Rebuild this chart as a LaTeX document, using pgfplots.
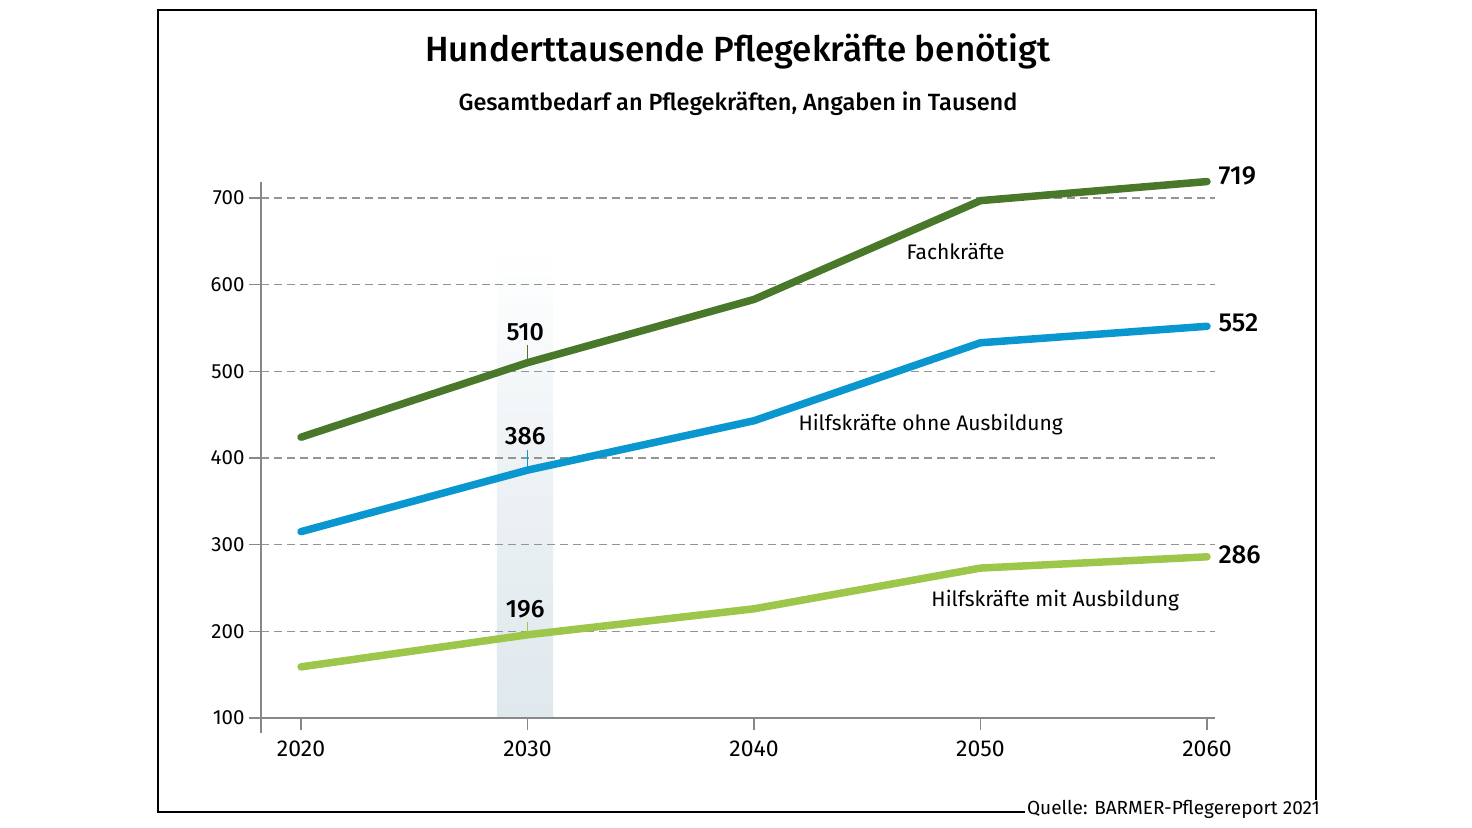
\documentclass[border=0pt]{standalone}
\usepackage{fontspec}
\setmainfont{Fira Sans}[BoldFont={Fira Sans Medium}]
\usepackage{pgfplots}
\pgfplotsset{compat=1.18}
\definecolor{dg}{HTML}{4A782B}
\definecolor{bl}{HTML}{0A96CF}
\definecolor{lg}{HTML}{9DC74A}
\definecolor{bandc}{HTML}{DFE8ED}
\definecolor{axc}{HTML}{888888}
\newcommand{\fs}[1]{\fontsize{#1bp}{#1bp}\selectfont}
\begin{document}
\begin{tikzpicture}
\path (0,0) rectangle (1472bp,828bp);
\begin{axis}[
  at={(261bp,110bp)}, anchor=south west,
  scale only axis, width=954bp, height=536bp,
  xmin=2018.234, xmax=2060.353, ymin=100, ymax=718.5,
  axis line style={draw=none},
  xtick={2020,2030,2040,2050,2060},
  xticklabels={2020,2030,2040,2050,2060},
  ytick={100,200,300,400,500,600,700},
  yticklabels={100,200,300,400,500,600,700},
  tick align=outside, tick pos=left,
  major tick length=12bp,
  tick style={draw=axc, line width=1.2bp},
  ymajorgrids,
  major grid style={draw=axc!90, dash pattern=on 8bp off 5bp, line width=1.2bp},
  xticklabel style={font=\fs{23}, yshift=-7bp},
  yticklabel style={font=\fs{20.5}, xshift=-1bp},
  clip=false, set layers,
]
\begin{pgfonlayer}{axis background}
\fill[top color=white, bottom color=bandc, middle color=bandc!60] (axis cs:2028.65,100) rectangle (axis cs:2031.13,640);
\end{pgfonlayer}
\draw[axc, line width=1.5bp] (axis cs:2017.79,100) -- (axis cs:2060.353,100);
\draw[axc, line width=1.5bp] (axis cs:2018.234,82.7) -- (axis cs:2018.234,718.5);

\addplot[dg, line width=7.5bp, line cap=round, line join=round] coordinates {(2020,424)(2030,510)(2040,583)(2050,697)(2060,719)};
\addplot[bl, line width=7.5bp, line cap=round, line join=round] coordinates {(2020,315)(2030,386)(2040,443)(2050,533)(2060,552)};
\addplot[lg, line width=7.5bp, line cap=round, line join=round] coordinates {(2020,159)(2030,196)(2040,226)(2050,273)(2060,286)};

\draw[dg, line width=1.2bp] (axis cs:2030,513) -- (axis cs:2030,530);
\draw[bl, line width=1.2bp] (axis cs:2030,390) -- (axis cs:2030,409);
\draw[lg, line width=1.2bp] (axis cs:2030,199) -- (axis cs:2030,211);

\node[font=\bfseries\fs{25}] at (axis cs:2029.9,545) {510};
\node[font=\bfseries\fs{25}] at (axis cs:2029.9,425) {386};
\node[font=\bfseries\fs{25}] at (axis cs:2029.9,226) {196};

\node[anchor=west, font=\bfseries\fs{26}, xshift=8bp] at (axis cs:2060,725) {719};
\node[anchor=west, font=\bfseries\fs{26}, xshift=8bp] at (axis cs:2060,556) {552};
\node[anchor=west, font=\bfseries\fs{26}, xshift=8bp] at (axis cs:2060,288) {286};

\node[font=\fs{21}] at (axis cs:2048.9,638) {Fachkräfte};
\node[font=\fs{21}] at (axis cs:2047.8,439) {Hilfskräfte ohne Ausbildung};
\node[font=\fs{21}] at (axis cs:2053.3,235) {Hilfskräfte mit Ausbildung};
\end{axis}
\draw[black, line width=1.3bp] (1025bp,16bp) -- (158bp,16bp) -- (158bp,818bp) -- (1316bp,818bp) -- (1316bp,28bp);
\node[anchor=base east, inner sep=0, font=\fs{19}] at (1320bp,14bp) {Quelle: BARMER-Pflegereport 2021};
\node[anchor=base, inner sep=0, font=\bfseries\fs{35}] at (738bp,766bp) {Hunderttausende Pflegekräfte benötigt};
\node[anchor=base, inner sep=0, font=\bfseries\fs{23.5}] at (738bp,717bp) {Gesamtbedarf an Pflegekräften, Angaben in Tausend};
\end{tikzpicture}
\end{document}
